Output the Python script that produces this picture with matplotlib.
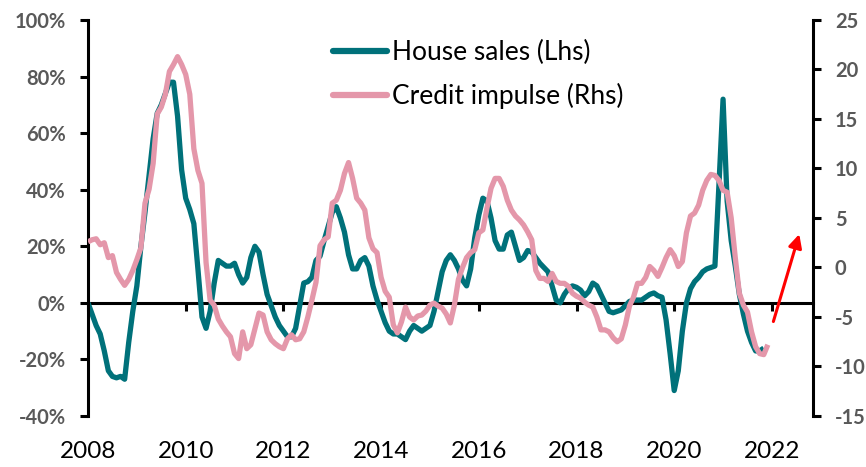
import matplotlib
matplotlib.use("Agg")
import matplotlib.pyplot as plt
import numpy as np

# ---------------- data (monthly, Jan 2008 onwards) ----------------
start_year = 2008
house_sales = [  # % y/y, left axis
    0, -4, -8, -11, -17, -24, -26, -26.5, -26, -27, -14, -3,
    6, 20, 32, 45, 58, 67, 70, 74, 78, 78, 66, 47,
    37, 33, 28, 12, -5, -9, -3, 7, 15, 14, 13, 13,
    14, 10, 7, 9, 16, 20, 18, 10, 3, -1, -5, -8,
    -10, -12, -12, -9, -1, 7, 7.5, 9, 15, 16.5, 22, 27,
    32, 34, 30, 25, 17, 12, 12, 15, 16, 13, 6, 1,
    -3, -7, -10, -11, -11, -12, -13, -10, -8, -9, -10, -9,
    -8, -3, 4, 11, 15, 17, 15, 12, 8, 6, 12, 23,
    31, 37, 36, 30, 22, 19, 19, 24, 25, 20, 15, 16,
    18.5, 18, 16, 14, 12.5, 11, 6, 1, 0, 3, 5, 6,
    5.5, 4.5, 2.5, 4, 7, 6, 3, 0, -3, -3.5, -3, -2.5,
    -1, 0.5, 1, 1, 1, 2, 3, 3.5, 2.5, 2, -6, -18,
    -31, -24, -10, 0, 5, 7.5, 9, 11, 12, 12.5, 13, 42,
    72, 36, 22, 13, 3, -4, -10, -14, -17, -17, -16,
]
credit_impulse = [  # right axis
    2.6, 2.8, 2.9, 2.3, 2.5, 1.0, 1.2, -0.5, -1.2, -1.8, -1.2, -0.3,
    0.8, 2.0, 6.5, 7.9, 10.5, 15.5, 16.2, 17.5, 19.8, 20.5, 21.3, 20.5,
    19.5, 17.5, 12.0, 9.8, 8.5, 0.5, -3.3, -3.8, -5.2, -5.9, -6.5, -7.0,
    -8.7, -9.2, -6.5, -8.2, -7.8, -6.2, -4.6, -4.8, -6.5, -7.3, -7.7, -8.0,
    -8.2, -7.2, -6.8, -7.3, -7.2, -6.5, -5.0, -3.3, -1.5, 2.2, 2.8, 3.1,
    6.5, 6.8, 7.8, 9.5, 10.6, 9.0, 7.0, 6.5, 5.8, 3.0, 1.9, 1.5,
    -1.0, -2.4, -3.0, -5.8, -6.6, -5.5, -4.0, -5.0, -5.3, -4.9, -4.8, -4.4,
    -3.8, -3.6, -3.9, -4.1, -4.7, -5.6, -3.8, -1.2, 0.0, 1.0, 1.5, 1.8,
    3.5, 3.8, 6.0, 8.0, 9.0, 9.0, 8.2, 6.8, 5.8, 5.2, 4.8, 4.3,
    3.6, 2.8, -0.3, -1.1, -1.1, -1.4, -0.6, -1.4, -1.6, -1.6, -1.9, -2.6,
    -2.9, -3.1, -3.5, -3.8, -4.0, -5.0, -6.3, -6.3, -6.5, -7.1, -7.5, -7.2,
    -5.8, -3.9, -3.0, -1.6, -1.6, -1.0, 0.1, -0.3, -0.9, 0.0, 1.0, 1.8,
    1.2, 0.1, 0.6, 3.5, 5.2, 5.5, 6.3, 7.8, 8.8, 9.4, 9.3, 8.8,
    7.8, 7.6, 5.0, 1.0, -2.6, -3.8, -4.5, -6.5, -8.0, -8.7, -8.8, -7.8,
]
year_ticks = [2008, 2010, 2012, 2014, 2016, 2018, 2020, 2022]
left_ticks = [-40, -20, 0, 20, 40, 60, 80, 100]
right_ticks = [-15, -10, -5, 0, 5, 10, 15, 20, 25]
series_labels = ["House sales (Lhs)", "Credit impulse (Rhs)"]
# trend arrow (start, end) in years / left-axis %
arrow_start = (2022.03, -6.6)
arrow_end = (2022.56, 24.3)

t_house = start_year + np.arange(len(house_sales)) / 12.0
t_credit = start_year + np.arange(len(credit_impulse)) / 12.0

# ---------------- styling ----------------
TEAL = "#00717A"
PINK = "#E497AA"
GREY = "#595959"
FONT = "Lato"

plt.rcParams["font.family"] = [FONT, "DejaVu Sans"]

W, H = 866, 467
fig = plt.figure(figsize=(W / 100, H / 100), dpi=100)
L, R, T, B = 88, 812.7, 20, 416
ax = fig.add_axes([L / W, 1 - B / H, (R - L) / W, (B - T) / H])
ax2 = ax.twinx()

ax.plot(t_house, house_sales, color=TEAL, lw=3.8, solid_joinstyle="round",
        solid_capstyle="butt", label=series_labels[0])
ax2.plot(t_credit, credit_impulse, color=PINK, lw=3.8, solid_joinstyle="round",
         solid_capstyle="butt", label=series_labels[1])

ax.set_xlim(2008, 2022.835)
ax.set_ylim(-40, 100)
ax2.set_ylim(-15, 25)

spine_w = 2.2
for a in (ax, ax2):
    for s in a.spines.values():
        s.set_visible(False)
ax.spines["left"].set_visible(True)
ax.spines["left"].set_linewidth(spine_w)
ax2.spines["right"].set_visible(True)
ax2.spines["right"].set_linewidth(spine_w)

ax.set_yticks(left_ticks)
ax.set_yticklabels([f"{v}%" for v in left_ticks])
ax2.set_yticks(right_ticks)
ax2.set_yticklabels([str(v) for v in right_ticks])
for a in (ax, ax2):
    a.tick_params(axis="y", direction="out", length=6, width=spine_w,
                  pad=10, labelsize=14.5, labelcolor=GREY)
    for lab in a.get_yticklabels():
        lab.set_fontweight("bold")

# year labels at bottom, no tick marks there
ax.set_xticks(year_ticks)
ax.set_xticklabels([str(y) for y in year_ticks])
ax.tick_params(axis="x", length=0, pad=18, labelsize=17.5, labelcolor="black")

# zero line with tick marks
zero_frac = (0 - (-40)) / 140.0
sec = ax.secondary_xaxis(zero_frac)
sec.set_xticks(year_ticks)
sec.set_xticklabels([])
sec.tick_params(axis="x", direction="out", length=6, width=spine_w, color="black")
sec.spines["bottom"].set_linewidth(spine_w)
sec.spines["bottom"].set_color("black")

# legend
fs_leg = 19
px = fs_leg / 0.72
handles = ax.get_lines() + ax2.get_lines()
leg = ax2.legend(handles, series_labels, loc="upper left",
                 bbox_to_anchor=(333 / W, 1 - 40 / H), bbox_transform=fig.transFigure,
                 frameon=False, fontsize=fs_leg, borderpad=0, borderaxespad=0,
                 handlelength=54 / px, handletextpad=5 / px,
                 labelspacing=0.68)
for line in leg.get_lines():
    line.set_linewidth(4.5)
    line.set_solid_capstyle("round")

# red arrow
ax.annotate("", xy=arrow_end, xytext=arrow_start,
            arrowprops=dict(arrowstyle="-|>", color="#FF0000", lw=2.2,
                            mutation_scale=20, shrinkA=0, shrinkB=0),
            annotation_clip=False)

fig.savefig("out.png", dpi=100)
